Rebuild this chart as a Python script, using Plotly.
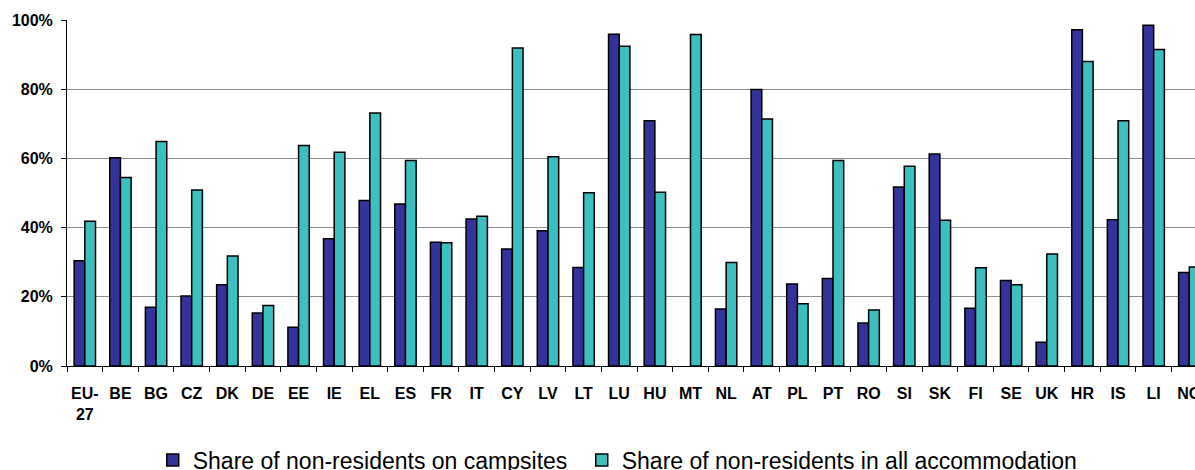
import plotly.graph_objects as go

categories = ["EU-27", "BE", "BG", "CZ", "DK", "DE", "EE", "IE", "EL", "ES", "FR", "IT",
              "CY", "LV", "LT", "LU", "HU", "MT", "NL", "AT", "PL", "PT", "RO", "SI",
              "SK", "FI", "SE", "UK", "HR", "IS", "LI", "NO"]
tick_labels = ["EU-<br>27"] + categories[1:]

campsites = [30.4, 60.2, 17.0, 20.2, 23.5, 15.3, 11.2, 36.8, 47.8, 46.8, 35.8, 42.5,
             33.8, 39.1, 28.5, 95.9, 70.9, None, 16.5, 79.9, 23.7, 25.3, 12.4, 51.7,
             61.3, 16.7, 24.7, 6.9, 97.2, 42.3, 98.5, 27.0]
all_accommodation = [41.8, 54.5, 64.9, 50.9, 31.8, 17.5, 63.7, 61.8, 73.1, 59.4, 35.6, 43.3,
                     91.9, 60.5, 50.1, 92.4, 50.2, 95.8, 29.9, 71.4, 18.0, 59.4, 16.2, 57.7,
                     42.1, 28.4, 23.5, 32.4, 88.0, 70.9, 91.5, 28.6]

series_names = ["Share of non-residents on campsites",
                "Share of non-residents in all accommodation"]
y_ticks = [0, 20, 40, 60, 80, 100]

fig = go.Figure()
fig.add_trace(go.Bar(x=tick_labels, y=campsites, name=series_names[0], legendwidth=384,
                     marker=dict(color="#333399", line=dict(color="#000000", width=1.5))))
fig.add_trace(go.Bar(x=tick_labels, y=all_accommodation, name=series_names[1],
                     marker=dict(color="#3CBFBF", line=dict(color="#000000", width=1.5))))

fig.update_layout(
    width=1195, height=470,
    margin=dict(l=67, r=0, t=20, b=104, autoexpand=False),
    paper_bgcolor="white", plot_bgcolor="white",
    barmode="group", bargap=0.4, bargroupgap=0,
    font=dict(family="Liberation Sans, Arial, sans-serif", color="#000000"),
    legend=dict(orientation="h", x=0.076, xanchor="left", y=-0.272, yanchor="middle",
                font=dict(size=23, family="Liberation Sans, Arial, sans-serif"),
                traceorder="normal", itemwidth=30),
    showlegend=True,
)
fig.update_xaxes(
    type="category", range=[-0.5, 31.16], automargin=False,
    tickson="boundaries", ticks="outside", ticklen=5, tickcolor="#000000", tickwidth=1,
    showline=True, linecolor="#000000", linewidth=1,
    showgrid=False, tickangle=0, ticklabelstandoff=13,
    tickfont=dict(size=16, weight="bold"),
)
fig.update_yaxes(
    range=[0, 100], tickvals=y_ticks, ticktext=[f"{v}%" for v in y_ticks],
    automargin=False,
    ticks="outside", ticklen=5, tickcolor="#000000", tickwidth=1,
    showline=True, linecolor="#000000", linewidth=1,
    showgrid=True, gridcolor="#8c8c8c", gridwidth=1,
    zeroline=False, ticklabelstandoff=5,
    tickfont=dict(size=16, weight="bold"),
)

fig.write_html("out.html", config={"displayModeBar": False},
               post_script="document.body.style.margin='0px';document.body.style.overflow='hidden';")
